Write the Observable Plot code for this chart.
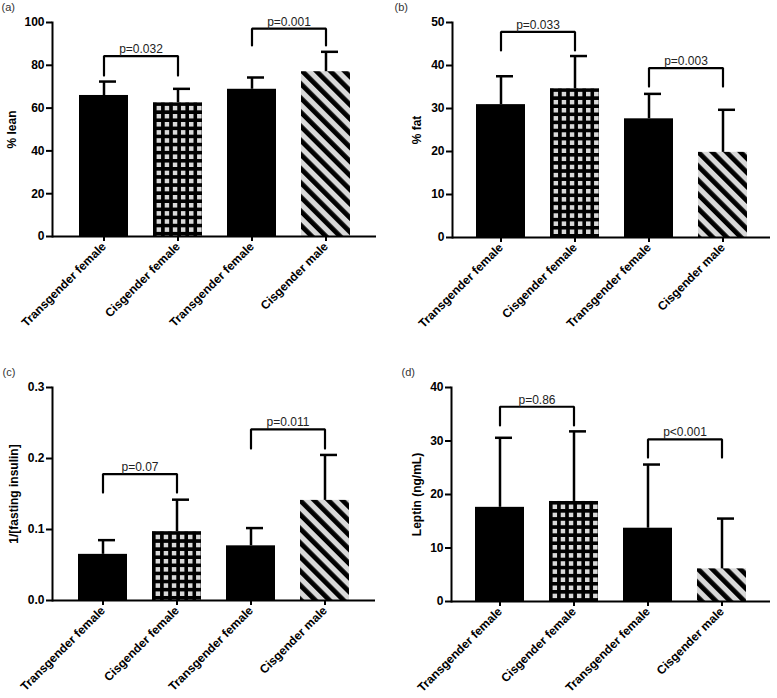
<!DOCTYPE html>
<html><head><meta charset="utf-8">
<script src="https://cdn.jsdelivr.net/npm/d3@7"></script>
<script src="https://cdn.jsdelivr.net/npm/@observablehq/plot@0.6"></script>
<style>
body{margin:0;background:#fff;}
#wrap{position:relative;width:777px;height:698px;overflow:hidden;}
.panel{position:absolute;}
</style></head><body><div id="wrap"></div>
<script>
// ---- data ----
const categories = ["Transgender female","Cisgender female","Transgender female","Cisgender male"];

const leanMean = [65.9, 62.5, 68.8, 77.0];
const leanSD   = [6.5, 6.5, 5.5, 9.3];
const leanTicks = [0, 20, 40, 60, 80, 100];
const leanBracketTop = [84.3, 97.1];
const leanBracketLeg = [75.2, 89.3];
const leanP = ["p=0.032", "p=0.001"];

const fatMean = [30.9, 34.6, 27.6, 19.8];
const fatSD   = [6.6, 7.6, 5.8, 9.9];
const fatTicks = [0, 10, 20, 30, 40, 50];
const fatBracketTop = [47.8, 39.4];
const fatBracketLeg = [43.5, 35.1];
const fatP = ["p=0.033", "p=0.003"];

const insMean = [0.065, 0.097, 0.077, 0.141];
const insSD   = [0.020, 0.045, 0.025, 0.064];
const insTicks = [0.0, 0.1, 0.2, 0.3];
const insBracketTop = [0.178, 0.241];
const insBracketLeg = [0.152, 0.214];
const insP = ["p=0.07", "p=0.011"];

const lepMean = [17.6, 18.7, 13.7, 6.1];
const lepSD   = [13.0, 13.1, 11.9, 9.4];
const lepTicks = [0, 10, 20, 30, 40];
const lepBracketTop = [36.4, 30.3];
const lepBracketLeg = [32.9, 26.9];
const lepP = ["p=0.86", "p<0.001"];

const bracketPairs = [[0, 1], [2, 3]];

// ---- layout / style ----
const FONT = "Liberation Sans, Arial, sans-serif";
const panels = [
  {id:"a", tag:"(a)", yLabel:"% lean", mean:leanMean, sd:leanSD, ticks:leanTicks, fmt:d=>d, top:leanBracketTop, leg:leanBracketLeg, p:leanP,
   left:0, topPx:0, width:388, height:345, mL:52, mR:12, mT:22, mB:109, pO:0.345, ylDx:-40, tagDx:-51, tagDy:-15},
  {id:"b", tag:"(b)", yLabel:"% fat", mean:fatMean, sd:fatSD, ticks:fatTicks, fmt:d=>d, top:fatBracketTop, leg:fatBracketLeg, p:fatP,
   left:390, topPx:0, width:387, height:345, mL:62, mR:7, mT:22, mB:108, pO:0.30, ylDx:-35, tagDx:-58, tagDy:-15},
  {id:"c", tag:"(c)", yLabel:"1/[fasting insulin]", mean:insMean, sd:insSD, ticks:insTicks, fmt:d3.format(".1f"), top:insBracketTop, leg:insBracketLeg, p:insP,
   left:0, topPx:345, width:388, height:353, mL:52, mR:13, mT:42, mB:98, pO:0.345, ylDx:-38, tagDx:-50, tagDy:-15},
  {id:"d", tag:"(d)", yLabel:"Leptin (ng/mL)", mean:lepMean, sd:lepSD, ticks:lepTicks, fmt:d=>d, top:lepBracketTop, leg:lepBracketLeg, p:lepP,
   left:390, topPx:345, width:387, height:353, mL:61, mR:7, mT:42, mB:97, pO:0.30, ylDx:-34, tagDx:-50, tagDy:-15}
];

const wrap = document.getElementById("wrap");
const idx = [0, 1, 2, 3];

for (const cfg of panels) {
  const fills = ["black", `url(#grid-${cfg.id})`, "black", `url(#stripe-${cfg.id})`];
  const yMax = cfg.ticks[cfg.ticks.length - 1];
  const bracketPts = [];
  bracketPairs.forEach(([a, b], k) => {
    bracketPts.push({x: a, y: cfg.leg[k], k}, {x: a, y: cfg.top[k], k}, {x: b, y: cfg.top[k], k}, {x: b, y: cfg.leg[k], k});
  });
  const pRows = bracketPairs.map(([a, b], k) => ({x: a, y: cfg.top[k], t: cfg.p[k]}));

  const chart = Plot.plot({
    width: cfg.width, height: cfg.height,
    marginLeft: cfg.mL, marginRight: cfg.mR, marginTop: cfg.mT, marginBottom: cfg.mB,
    style: {fontFamily: FONT, background: "white", overflow: "visible"},
    x: {domain: idx, paddingInner: 0.34, paddingOuter: cfg.pO, label: null},
    y: {domain: [0, yMax], label: null},
    color: {type: "identity"},
    marks: [
      Plot.barY(idx, {x: i => i, y: i => cfg.mean[i], fill: i => fills[i]}),
      Plot.ruleX(idx, {x: i => i, y1: i => cfg.mean[i], y2: i => cfg.mean[i] + cfg.sd[i], stroke: "black", strokeWidth: 2.5}),
      Plot.tickY(idx, {x: i => i, y: i => cfg.mean[i] + cfg.sd[i], stroke: "black", strokeWidth: 2.5, insetLeft: 20, insetRight: 12}),
      Plot.line(bracketPts, {x: "x", y: "y", z: "k", stroke: "black", strokeWidth: 2.2, strokeLinejoin: "miter"}),
      Plot.text(pRows, {x: "x", y: "y", text: "t", dx: 37, dy: -3, lineAnchor: "bottom", fontSize: 12, fill: "#222"}),
      Plot.ruleY([0], {stroke: "black", strokeWidth: 2}),
      Plot.frame({anchor: "left", stroke: "black", strokeWidth: 2}),
      Plot.axisY({ticks: cfg.ticks, tickFormat: cfg.fmt, tickSize: 6, tickPadding: 2, strokeWidth: 2, fontSize: 12, fontWeight: "bold", label: null}),
      Plot.axisX({tickFormat: i => categories[i], tickRotate: -45, tickSize: 5, tickPadding: 3, strokeWidth: 2, fontSize: 12, fontWeight: "bold", label: null}),
      Plot.text([cfg.yLabel], {frameAnchor: "left", rotate: -90, dx: cfg.ylDx, fontSize: 12, fontWeight: "bold", textAnchor: "middle"}),
      Plot.text([cfg.tag], {frameAnchor: "top-left", dx: cfg.tagDx, dy: cfg.tagDy, fontSize: 11, textAnchor: "start", lineAnchor: "middle", fill: "#333"})
    ]
  });

  // patterns, aligned to the bars via the chart's own scales
  const xs = chart.scale("x"), ys = chart.scale("y");
  const gx = xs.apply(1), sx = xs.apply(3);
  const gy = ys.apply(cfg.mean[1]), sy = ys.apply(cfg.mean[3]);
  const svg = d3.select(chart.tagName.toLowerCase() === "svg" ? chart : chart.querySelector("svg"));
  const defs = svg.insert("defs", ":first-child");
  const g = defs.append("pattern").attr("id", `grid-${cfg.id}`).attr("patternUnits", "userSpaceOnUse")
    .attr("x", gx).attr("y", gy).attr("width", 8.1).attr("height", 8.1);
  g.append("rect").attr("width", 8.1).attr("height", 8.1).attr("fill", "#d9d9d9");
  g.append("rect").attr("width", 3.6).attr("height", 8.1).attr("fill", "black");
  g.append("rect").attr("width", 8.1).attr("height", 3.6).attr("fill", "black");
  const s = defs.append("pattern").attr("id", `stripe-${cfg.id}`).attr("patternUnits", "userSpaceOnUse")
    .attr("x", sx).attr("y", sy).attr("width", 10).attr("height", 10).attr("patternTransform", "rotate(-45)");
  s.append("rect").attr("width", 10).attr("height", 10).attr("fill", "#d9d9d9");
  s.append("rect").attr("width", 4.8).attr("height", 10).attr("fill", "black");

  const div = document.createElement("div");
  div.className = "panel";
  div.style.left = cfg.left + "px";
  div.style.top = cfg.topPx + "px";
  div.appendChild(chart);
  wrap.appendChild(div);
}
</script>
</body></html>
